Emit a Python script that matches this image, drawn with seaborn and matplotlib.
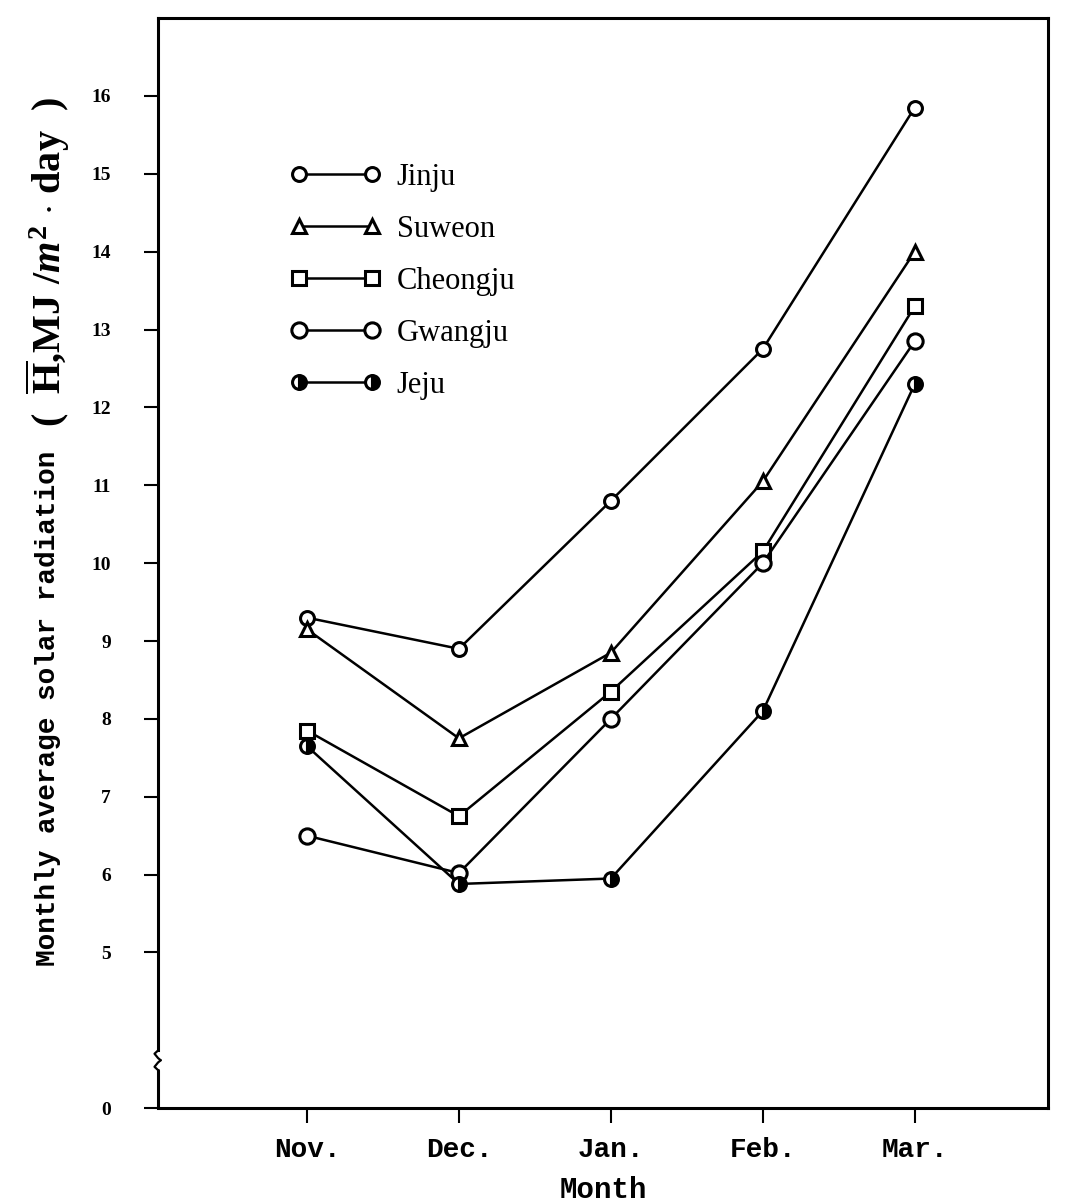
import numpy as np
import pandas as pd
import matplotlib
matplotlib.use("Agg")
import matplotlib.pyplot as plt
import seaborn as sns

months = ["Nov.", "Dec.", "Jan.", "Feb.", "Mar."]
stations = ["Jinju", "Suweon", "Cheongju", "Gwangju", "Jeju"]
jinju = [9.3, 8.9, 10.8, 12.75, 15.85]
suweon = [9.15, 7.75, 8.85, 11.05, 14.0]
cheongju = [7.85, 6.75, 8.35, 10.15, 13.3]
gwangju = [6.5, 6.02, 8.0, 10.0, 12.85]
jeju = [7.65, 5.88, 5.95, 8.1, 12.3]
ytick_vals = [3, 5, 6, 7, 8, 9, 10, 11, 12, 13, 14, 15, 16]
ytick_labels = ["0", "5", "6", "7", "8", "9", "10", "11", "12", "13", "14", "15", "16"]

series = {"Jinju": jinju, "Suweon": suweon, "Cheongju": cheongju,
          "Gwangju": gwangju, "Jeju": jeju}
rows = []
for s in stations:
    for i, v in enumerate(series[s]):
        rows.append({"station": s, "x": i, "value": v})
df = pd.DataFrame(rows)

sns.set_style("white")
plt.rcParams["font.family"] = ["Liberation Serif", "DejaVu Serif"]
plt.rcParams["mathtext.fontset"] = "custom"
plt.rcParams["mathtext.rm"] = "Liberation Serif:bold"
plt.rcParams["mathtext.it"] = "Liberation Serif:bold:italic"
plt.rcParams["mathtext.bf"] = "Liberation Serif:bold"
for k in ["text.color", "axes.labelcolor", "xtick.color", "ytick.color", "axes.edgecolor"]:
    plt.rcParams[k] = "black"

fig = plt.figure(figsize=(10.68, 12.02), dpi=100)
ax = fig.add_axes([0.148, 0.078, 0.833, 0.907])

styles = {
    "Jinju": dict(marker="o", ms=10),
    "Suweon": dict(marker="^", ms=10),
    "Cheongju": dict(marker="s", ms=10),
    "Gwangju": dict(marker="o", ms=11),
    "Jeju": dict(marker="o", ms=10, fillstyle="left"),
}
for s in stations:
    st = styles[s]
    kw = dict(marker=st["marker"], markersize=st["ms"], markeredgecolor="black",
              markeredgewidth=2.2, linewidth=1.8)
    if "fillstyle" in st:
        kw.update(fillstyle="left", markerfacecolor="white", markerfacecoloralt="black")
    else:
        kw.update(markerfacecolor="white")
    sns.lineplot(data=df[df.station == s], x="x", y="value", color="black",
                 label=s, ax=ax, **kw)

ax.set_xlim(-0.98, 4.875)
ax.set_ylim(3, 17)
ax.set_xticks(range(len(months)))
ax.set_xticklabels(months, fontfamily="Liberation Mono", fontweight="bold", fontsize=20)
ax.set_yticks(ytick_vals)
ax.set_yticklabels(ytick_labels, fontweight="bold", fontsize=14)
ax.tick_params(axis="x", direction="out", length=11, width=1.5, pad=10, bottom=True,
               colors="black")
ax.tick_params(axis="y", direction="out", length=10, width=1.5, pad=24, left=True,
               colors="black")

ax.set_xlabel("Month", fontfamily="Liberation Mono", fontweight="bold", fontsize=21,
              labelpad=9, color="black")
ax.set_ylabel("")
# y-axis title: typewriter part and unit part
fig.text(48 / 1068, 1 - 708 / 1202, "Monthly average solar radiation",
         rotation=90, ha="center", va="center", fontfamily="Liberation Mono",
         fontweight="bold", fontsize=20, color="black")
fig.text(48 / 1068, 1 - 262 / 1202,
         r"(  $\overline{\mathrm{H}}$,MJ /$m^{2}$ $\cdot$ day  )",
         rotation=90, ha="center", va="center", fontfamily="Liberation Serif",
         fontweight="bold", fontsize=29, color="black")

for sp in ax.spines.values():
    sp.set_color("black")
    sp.set_linewidth(2.2)
ax.spines["left"].set_bounds(3.75, 17)
# lower piece of the broken axis and squiggle
ax.plot([0, 0], [0, 0.035], transform=ax.transAxes, color="black", lw=2.2, clip_on=False)
ax.plot([0, -0.004, 0.0, 0.003], [0.035, 0.038, 0.042, 0.044], transform=ax.transAxes,
        color="black", lw=1.6, clip_on=False)
ax.plot([0, -0.004, 0.0, 0.003], [0.053, 0.050, 0.046, 0.044], transform=ax.transAxes,
        color="black", lw=1.6, clip_on=False)

leg = ax.legend(loc="upper left", bbox_to_anchor=(0.148, 0.867), frameon=False,
                numpoints=2, handlelength=3.0, handletextpad=0.5,
                labelspacing=0.75, fontsize=22, borderaxespad=0, borderpad=0)
for t in leg.get_texts():
    t.set_fontfamily("Liberation Serif")
    t.set_color("black")

fig.savefig("out.png", dpi=100)
